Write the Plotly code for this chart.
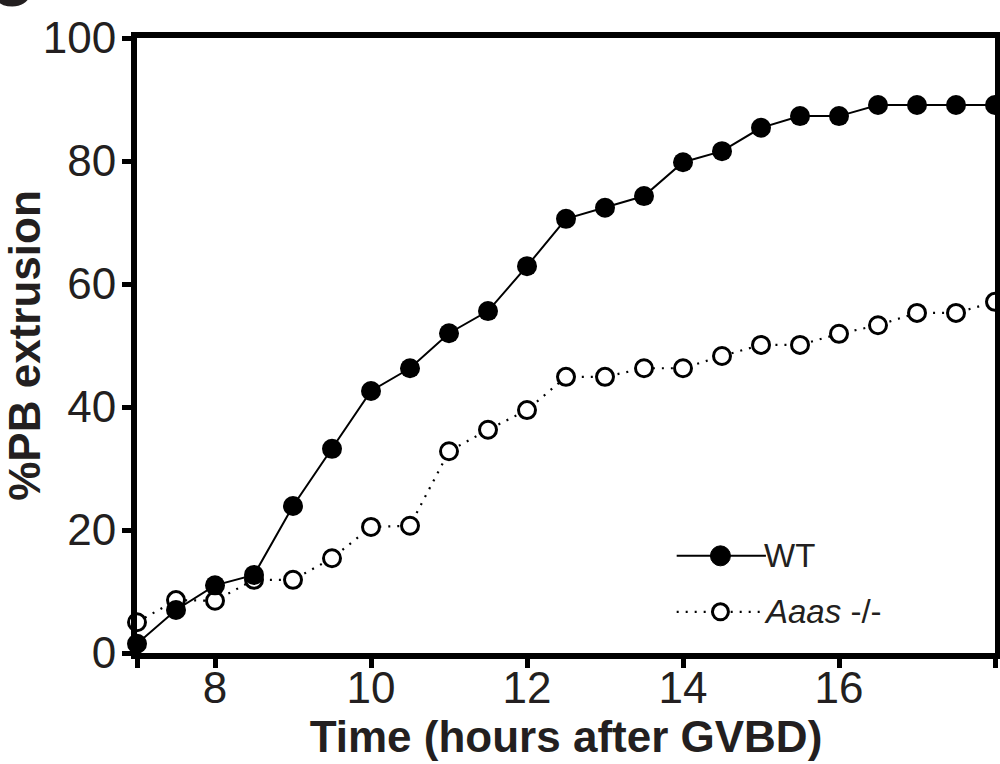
import plotly.graph_objects as go

time_h = [7, 7.5, 8, 8.5, 9, 9.5, 10, 10.5, 11, 11.5, 12, 12.5, 13, 13.5, 14, 14.5, 15, 15.5, 16, 16.5, 17, 17.5, 18]
wt = [1.5, 7, 11, 12.7, 23.9, 33.2, 42.6, 46.3, 52, 55.6, 62.9, 70.6, 72.4, 74.3, 79.8, 81.6, 85.4, 87.3, 87.3, 89.1, 89.1, 89.1, 89.1]
aaas = [5, 8.6, 8.5, 11.9, 11.9, 15.4, 20.5, 20.7, 32.8, 36.3, 39.5, 44.9, 44.9, 46.3, 46.3, 48.3, 50.1, 50.1, 51.9, 53.3, 55.3, 55.3, 57.1]
x_tickvals = [7, 8, 10, 12, 14, 16, 18]
x_ticktext = ["", "8", "10", "12", "14", "16", ""]
y_tickvals = [0, 20, 40, 60, 80, 100]

FONT = "Liberation Sans, Arial, sans-serif"
TXT = "#231f20"
DOTS = "2px,7px"

fig = go.Figure()
fig.add_trace(go.Scatter(
    x=time_h, y=aaas, mode="lines+markers", name="Aaas -/-",
    line=dict(color="black", width=2.2, dash=DOTS),
    marker=dict(symbol="circle", size=17, color="white", line=dict(color="black", width=3)),
    cliponaxis=False, showlegend=False))
fig.add_trace(go.Scatter(
    x=time_h, y=wt, mode="lines+markers", name="WT",
    line=dict(color="black", width=2),
    marker=dict(symbol="circle", size=20, color="black"),
    cliponaxis=False, showlegend=False))

# manual legend (paper coordinates)
lx0, lx1, lxm = 0.629, 0.733, 0.680
ly_wt, ly_aa = 0.158, 0.067
fig.add_shape(type="line", xref="paper", yref="paper", x0=lx0, x1=lx1, y0=ly_wt, y1=ly_wt,
              line=dict(color="black", width=2))
fig.add_shape(type="circle", xref="paper", yref="paper", xsizemode="pixel", ysizemode="pixel",
              xanchor=lxm, yanchor=ly_wt, x0=-10, x1=10, y0=-10, y1=10,
              fillcolor="black", line=dict(color="black", width=1))
fig.add_shape(type="line", xref="paper", yref="paper", x0=lx0, x1=lx1, y0=ly_aa, y1=ly_aa,
              line=dict(color="black", width=2.2, dash=DOTS))
fig.add_shape(type="circle", xref="paper", yref="paper", xsizemode="pixel", ysizemode="pixel",
              xanchor=lxm, yanchor=ly_aa, x0=-8, x1=8, y0=-8, y1=8,
              fillcolor="white", line=dict(color="black", width=3))
fig.add_annotation(xref="paper", yref="paper", x=lx1, y=ly_wt, xanchor="left", yanchor="middle",
                   text="WT", showarrow=False, font=dict(size=33, color=TXT, family=FONT), xshift=-4)
fig.add_annotation(xref="paper", yref="paper", x=lx1, y=ly_aa, xanchor="left", yanchor="middle",
                   text="<i>Aaas</i> -/-", showarrow=False, font=dict(size=33, color=TXT, family=FONT), xshift=-4)
# partially visible panel letter
fig.add_annotation(xref="paper", yref="paper", x=-0.12, y=1.086, xanchor="right", yanchor="middle",
                   text="<b>C</b>", showarrow=False, font=dict(size=60, color=TXT, family=FONT))

fig.update_layout(
    width=1000, height=764,
    margin=dict(l=137, r=5, t=38, b=111),
    paper_bgcolor="white", plot_bgcolor="white",
    font=dict(family=FONT, color=TXT),
    xaxis=dict(range=[7, 18], tickvals=x_tickvals, ticktext=x_ticktext, automargin=False,
               showgrid=False, zeroline=False, showline=True, linecolor="black", linewidth=6,
               mirror=True, ticks="outside", ticklen=9, tickwidth=5, tickcolor="black",
               tickfont=dict(size=44, color=TXT), ticklabelstandoff=-18,
               title=dict(text="<b>Time (hours after GVBD)</b>", font=dict(size=44, color=TXT), standoff=2)),
    yaxis=dict(range=[0, 100], tickvals=y_tickvals, automargin=False,
               showgrid=False, zeroline=False, showline=True, linecolor="black", linewidth=6,
               mirror=True, ticks="outside", ticklen=9, tickwidth=5, tickcolor="black",
               tickfont=dict(size=44, color=TXT), ticklabelstandoff=-3,
               title=dict(text="<b>%PB extrusion</b>", font=dict(size=44, color=TXT), standoff=0)),
)
fig.write_html("out.html", config={"displayModeBar": False},
               post_script="document.body.style.margin='0';document.body.style.padding='0';")
